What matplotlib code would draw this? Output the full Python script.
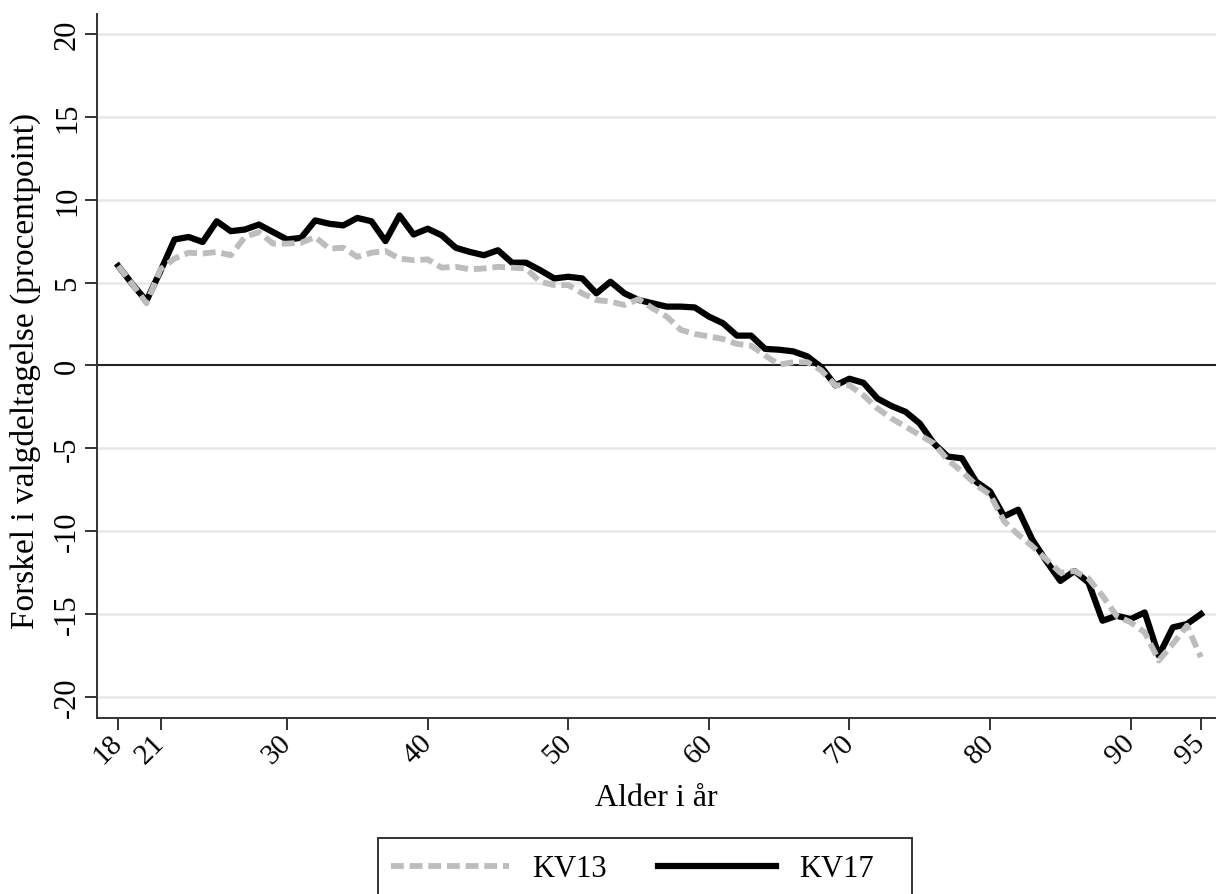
import matplotlib
matplotlib.use("Agg")
import matplotlib.pyplot as plt
from matplotlib.lines import Line2D
from matplotlib.patches import Rectangle

plt.rcParams["font.family"] = ["Liberation Serif", "DejaVu Serif"]
plt.rcParams["axes.unicode_minus"] = False

# age in years
ages = list(range(18, 96))

# difference in turnout, percentage points
kv13 = [6.0, 4.9, 3.75, 5.8, 6.45, 6.8, 6.75, 6.85, 6.65, 7.75,
        8.05, 7.35, 7.35, 7.4, 7.75, 7.05, 7.1, 6.55, 6.8, 6.9,
        6.45, 6.35, 6.4, 5.9, 5.95, 5.8, 5.85, 5.95, 5.9, 5.85,
        5.05, 4.85, 4.85, 4.35, 3.95, 3.85, 3.65, 4.0, 3.45, 2.95,
        2.15, 1.9, 1.75, 1.6, 1.3, 1.2, 0.6, 0.05, 0.2, 0.2,
        -0.3, -1.2, -1.2, -1.8, -2.6, -3.2, -3.7, -4.2, -4.7, -5.7,
        -6.4, -7.2, -7.8, -9.4, -10.2, -10.9, -11.7, -12.5, -12.4, -12.85,
        -13.9, -15.1, -15.5, -16.1, -17.8, -16.8, -15.7, -17.6]

kv17 = [6.0, 4.9, 3.9, 5.7, 7.6, 7.75, 7.45, 8.7, 8.1, 8.2,
        8.5, 8.05, 7.6, 7.7, 8.75, 8.55, 8.45, 8.9, 8.7, 7.5,
        9.05, 7.9, 8.25, 7.85, 7.1, 6.85, 6.65, 6.95, 6.2, 6.2,
        5.75, 5.25, 5.35, 5.25, 4.35, 5.05, 4.35, 3.95, 3.75, 3.55,
        3.55, 3.5, 2.95, 2.55, 1.8, 1.8, 1.0, 0.95, 0.85, 0.55,
        -0.1, -1.2, -0.8, -1.05, -2.0, -2.45, -2.8, -3.5, -4.7, -5.5,
        -5.6, -7.0, -7.6, -9.1, -8.7, -10.5, -11.8, -13.0, -12.4, -13.1,
        -15.4, -15.1, -15.3, -14.9, -17.5, -15.8, -15.6, -15.0]

xticks = [18, 21, 30, 40, 50, 60, 70, 80, 90, 95]
yticks = [-20, -15, -10, -5, 0, 5, 10, 15, 20]

GREY = "#bdbdbd"
DASH = (0, (2.2, 1.0))

fig = plt.figure(figsize=(12.16, 8.95), dpi=100)
ax = fig.add_axes([0.0795, 0.1966, 1 - 0.0795, 0.9832 - 0.1966])

for y in yticks:
    if y != 0:
        ax.axhline(y, color="#e8e8e8", lw=1.8, zorder=0)
ax.axhline(0, color="#222222", lw=1.5, zorder=1)

ax.plot(ages, kv17, color="black", lw=4.5, zorder=3)
ax.plot(ages, kv13, color=GREY, lw=4.2, ls=DASH, zorder=4)

ax.set_xlim(16.46, 96.07)
ax.set_ylim(-21.27, 21.2)
ax.set_xticks(xticks)
ax.set_yticks(yticks)

for s in ["top", "right"]:
    ax.spines[s].set_visible(False)
for s in ["left", "bottom"]:
    ax.spines[s].set_color("#333333")
    ax.spines[s].set_linewidth(1.4)
ax.tick_params(length=8.6, width=1.4, color="#333333")
ax.tick_params(axis="x", pad=6, labelsize=21)
ax.tick_params(axis="y", pad=2, labelsize=22)

for lab in ax.get_yticklabels():
    lab.set_rotation(90)
    lab.set_va("center")
for lab in ax.get_xticklabels():
    lab.set_rotation(45)
    lab.set_ha("right")
    lab.set_va("center")
    lab.set_rotation_mode("anchor")

ax.set_xlabel("Alder i år", fontsize=23)
ax.set_ylabel("Forskel i valgdeltagelse (procentpoint)", fontsize=24)
ax.xaxis.set_label_coords(0.5, -0.092)
ax.yaxis.set_label_coords(-0.05, 0.494)

# legend box (Stata-style, open at the bottom edge)
fig.patches.append(Rectangle((378 / 1216, -0.02), (912 - 378) / 1216, 0.02 + (895 - 839) / 895,
                             transform=fig.transFigure, fill=False,
                             edgecolor="#333333", lw=1.4))
handles = [Line2D([], [], color=GREY, lw=4.2, ls=DASH),
           Line2D([], [], color="black", lw=4.5)]
fig.legend(handles, ["KV13", "KV17"], loc="center left",
           bbox_to_anchor=(391 / 1216, (895 - 870) / 895), ncol=2,
           frameon=False, fontsize=22, handlelength=3.86, handletextpad=0.75,
           columnspacing=1.7, borderpad=0, borderaxespad=0)

fig.savefig("out.png", dpi=100)
